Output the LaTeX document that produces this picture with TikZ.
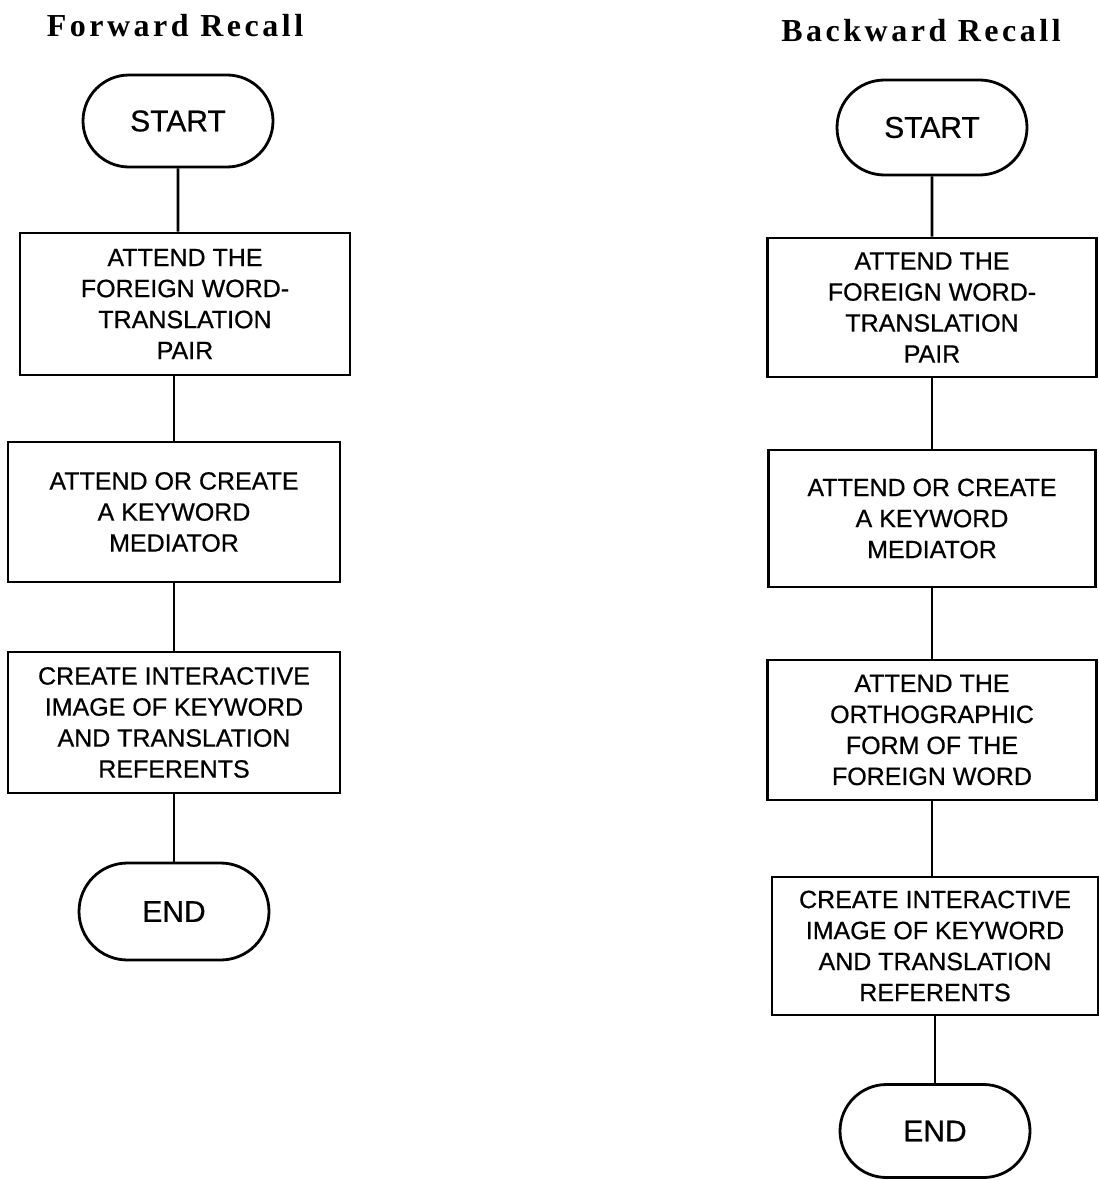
\documentclass[tikz,border=0pt]{standalone}
\usepackage{fontspec}
\setmainfont{Liberation Serif}
\setsansfont{Liberation Sans}[FakeBold=0.6]
\usetikzlibrary{shapes.misc}

\begin{document}
\begin{tikzpicture}[
    x=1pt, y=-1pt,
    heading/.style={anchor=base, inner sep=0pt,
                    font=\rmfamily\bfseries\fontsize{32}{32}\selectfont\addfontfeatures{LetterSpace=11}},
    term/.style={draw, rounded rectangle, line width=2.8pt, minimum width=190pt,
                 minimum height=#1, inner sep=0pt, font=\sffamily\fontsize{30}{30}\selectfont},
    stepbox/.style={draw, line width=2.8pt, minimum width=#1, minimum height=140pt,
                    inner sep=0pt, align=center, font=\sffamily\fontsize{25}{31}\selectfont},
    link/.style={line width=2.8pt}
  ]
  \useasboundingbox (0,0) rectangle (1099,1180);

  % forward recall
  \node[heading] (ftitle) at (175,37) {Forward Recall};
  \node[term=92pt] (fstart) at (178,121) {START};
  \node[stepbox=330pt, minimum height=142pt] (fattend) at (185,304) {ATTEND THE\\FOREIGN WORD-\\TRANSLATION\\PAIR};
  \node[stepbox=332pt] (fkey) at (174,512) {ATTEND OR CREATE\\A KEYWORD\\MEDIATOR};
  \node[stepbox=332pt, minimum height=141pt] (fimage) at (174,722.5) {CREATE INTERACTIVE\\IMAGE OF KEYWORD\\AND TRANSLATION\\REFERENTS};
  \node[term=97pt] (fend) at (174,911.5) {END};

  \draw[link] (fstart) -- (fstart |- fattend.north);
  \draw[link] (fattend.south -| fkey) -- (fkey);
  \draw[link] (fkey) -- (fimage);
  \draw[link] (fimage) -- (fend);

  % backward recall
  \node[heading] (btitle) at (921,42) {Backward Recall};
  \node[term=95pt] (bstart) at (932,127.5) {START};
  \node[stepbox=329pt, minimum height=139pt] (battend) at (932,307.5) {ATTEND THE\\FOREIGN WORD-\\TRANSLATION\\PAIR};
  \node[stepbox=327pt, minimum height=137pt] (bkey) at (932,518.5) {ATTEND OR CREATE\\A KEYWORD\\MEDIATOR};
  \node[stepbox=329pt] (bortho) at (932,730) {ATTEND THE\\ORTHOGRAPHIC\\FORM OF THE\\FOREIGN WORD};
  \node[stepbox=326pt, minimum height=138pt] (bimage) at (935,946) {CREATE INTERACTIVE\\IMAGE OF KEYWORD\\AND TRANSLATION\\REFERENTS};
  \node[term=93pt] (bend) at (935,1131) {END};

  \draw[link] (bstart) -- (battend);
  \draw[link] (battend) -- (bkey);
  \draw[link] (bkey) -- (bortho);
  \draw[link] (bortho.south) -- (bortho.south |- bimage.north);
  \draw[link] (bimage) -- (bend);

\end{tikzpicture}
\end{document}
